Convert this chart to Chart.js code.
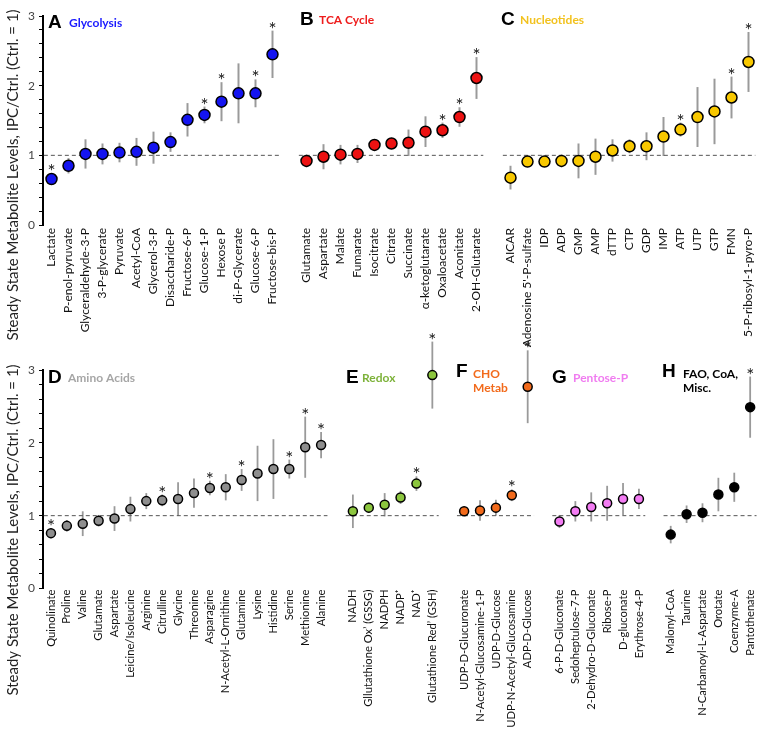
<!DOCTYPE html>
<html><head><meta charset="utf-8">
<script src="https://cdn.jsdelivr.net/npm/chart.js@4/dist/chart.umd.min.js"></script>
<style>
html,body{margin:0;padding:0;background:#fff;}
#wrap{position:relative;width:764px;height:731px;overflow:hidden;background:#fff;}
canvas{position:absolute;left:0;}
</style></head><body>
<div id="wrap">
<canvas id="topChart" width="781" height="360" style="top:0px"></canvas>
<canvas id="botChart" width="781" height="401" style="top:330px"></canvas>
</div>
<script>
// ---------- DATA ----------
const glycolysisLabels = ['Lactate','P-enol-pyruvate','Glyceraldehyde-3-P','3-P-glycerate','Pyruvate','Acetyl-CoA','Glycerol-3-P','Disaccharide-P','Fructose-6-P','Glucose-1-P','Hexose P','di-P-Glycerate','Glucose-6-P','Fructose-bis-P'];
const glycolysisValues = [0.66,0.85,1.02,1.02,1.04,1.05,1.11,1.19,1.51,1.58,1.77,1.89,1.89,2.45];
const glycolysisErrors = [0.08,0.11,0.21,0.15,0.14,0.20,0.23,0.14,0.24,0.12,0.28,0.43,0.20,0.34];
const glycolysisSig    = [1,0,0,0,0,0,0,0,0,1,1,0,1,1];

const tcaLabels = ['Glutamate','Aspartate','Malate','Fumarate','Isocitrate','Citrate','Succinate','α-ketoglutarate','Oxaloacetate','Aconitate','2-OH-Glutarate'];
const tcaValues = [0.92,0.98,1.01,1.02,1.15,1.17,1.18,1.34,1.36,1.55,2.11];
const tcaErrors = [0.09,0.18,0.14,0.13,0.07,0.08,0.19,0.22,0.11,0.14,0.30];
const tcaSig    = [0,0,0,0,0,0,0,0,1,1,1];

const nucleotideLabels = ['AICAR',"Adenosine 5'-P-sulfate",'IDP','ADP','GMP','AMP','dTTP','CTP','GDP','IMP','ATP','UTP','GTP','FMN','5-P-ribosyl-1-pyro-P'];
const nucleotideValues = [0.68,0.91,0.91,0.92,0.92,0.98,1.07,1.13,1.13,1.27,1.37,1.55,1.63,1.83,2.34];
const nucleotideErrors = [0.17,0.08,0.08,0.09,0.25,0.26,0.16,0.10,0.20,0.28,0.10,0.43,0.47,0.30,0.43];
const nucleotideSig    = [0,0,0,0,0,0,0,0,0,0,1,0,0,1,1];

const aminoLabels = ['Quinolinate','Proline','Valine','Glutamate','Aspartate','Leicine/Isoleucine','Arginine','Citrulline','Glycine','Threonine','Asparagine','N-Acetyl-L-Ornithine','Glutamine','Lysine','Histidine','Serine','Methionine','Alanine'];
const aminoValues = [0.76,0.86,0.89,0.93,0.96,1.09,1.20,1.21,1.23,1.31,1.38,1.39,1.49,1.58,1.64,1.64,1.94,1.97];
const aminoErrors = [0.07,0.08,0.17,0.08,0.17,0.17,0.11,0.08,0.23,0.20,0.10,0.18,0.15,0.38,0.41,0.13,0.42,0.18];
const aminoSig    = [1,0,0,0,0,0,0,1,0,0,1,0,1,0,0,1,1,1];

const redoxLabels = ['NADH','Gllutathione Ox’ (GSSG)','NADPH','NADP⁺','NAD⁺','Glutathione Red’ (GSH)'];
const redoxValues = [1.06,1.11,1.15,1.25,1.44,2.93];
const redoxErrors = [0.23,0.07,0.16,0.09,0.10,0.46];
const redoxSig    = [0,0,0,0,1,1];

const choLabels = ['UDP-D-Glucuronate','N-Acetyl-Glucosamine-1-P','UDP-D-Glucose','UDP-N-Acetyl-Glucosamine','ADP-D-Glucose'];
const choValues = [1.06,1.07,1.11,1.28,2.77];
const choErrors = [0.04,0.14,0.11,0.08,0.50];
const choSig    = [0,0,0,1,1];

const pentoseLabels = ['6-P-D-Gluconate','Sedoheptulose-7-P','2-Dehydro-D-Gluconate','Ribose-P','D-gluconate','Erythrose-4-P'];
const pentoseValues = [0.92,1.06,1.12,1.17,1.23,1.23];
const pentoseErrors = [0.09,0.14,0.20,0.24,0.22,0.14];
const pentoseSig    = [0,0,0,0,0,0];

const miscLabels = ['Malonyl-CoA','Taurine','N-Carbamoyl-L-Aspartate','Orotate','Coenzyme-A','Pantothenate'];
const miscValues = [0.74,1.02,1.04,1.29,1.39,2.49];
const miscErrors = [0.12,0.12,0.13,0.23,0.20,0.42];
const miscSig    = [0,0,0,0,0,1];

const yTickValues = [0,1,2,3];
const controlLevel = 1;
const yAxisTitle = 'Steady State Metabolite Levels, IPC/Ctrl. (Ctrl. = 1)';

// ---------- STYLE ----------
const FONT = 'Lato, "Open Sans", sans-serif';
const topPanels = [
  {labels:glycolysisLabels, values:glycolysisValues, errors:glycolysisErrors, sig:glycolysisSig, color:'#1414f0'},
  {labels:tcaLabels, values:tcaValues, errors:tcaErrors, sig:tcaSig, color:'#ec1212'},
  {labels:nucleotideLabels, values:nucleotideValues, errors:nucleotideErrors, sig:nucleotideSig, color:'#f8c800'}
];
const botPanels = [
  {labels:aminoLabels, values:aminoValues, errors:aminoErrors, sig:aminoSig, color:'#8e8e8e'},
  {labels:redoxLabels, values:redoxValues, errors:redoxErrors, sig:redoxSig, color:'#8cc63e'},
  {labels:choLabels, values:choValues, errors:choErrors, sig:choSig, color:'#f26a1b'},
  {labels:pentoseLabels, values:pentoseValues, errors:pentoseErrors, sig:pentoseSig, color:'#f37cf3'},
  {labels:miscLabels, values:miscValues, errors:miscErrors, sig:miscSig, color:'#000000'}
];

function buildRow(panels, radius) {
  const names = {}; const tickIdx = []; const datasets = []; const refs = [];
  let off = 0;
  panels.forEach(p => {
    const n = p.labels.length;
    p.labels.forEach((l,i) => { names[off+i] = l; tickIdx.push(off+i); });
    datasets.push({
      type:'scatter', order:0, clip:false,
      data: p.values.map((v,i)=>({x:off+i, y:v})),
      errors: p.errors, sig: p.sig,
      backgroundColor:p.color, borderColor:'#000', borderWidth:1.5,
      pointRadius:radius, pointHoverRadius:radius
    });
    refs.push({
      type:'line', order:2, clip:false,
      data:[{x:off-0.45, y:controlLevel},{x:off+n-1+0.4, y:controlLevel}],
      borderColor:'#555', borderWidth:1, borderDash:[4,3], pointRadius:0, showLine:true, fill:false
    });
    off += n + 1;
  });
  return {names, tickIdx, datasets: datasets.concat(refs), total: off - 1};
}

function makePlugin(texts, titleY, errW) {
  return {
    id:'decor',
    beforeDatasetsDraw(chart) {
      const {ctx, scales:{x,y}} = chart;
      ctx.save();
      ctx.strokeStyle = '#9a9a9a'; ctx.lineWidth = errW;
      chart.data.datasets.forEach(ds => {
        if (!ds.errors) return;
        ds.data.forEach((p,i) => {
          const px = x.getPixelForValue(p.x);
          ctx.beginPath();
          ctx.moveTo(px, y.getPixelForValue(p.y + ds.errors[i]));
          ctx.lineTo(px, y.getPixelForValue(p.y - ds.errors[i]));
          ctx.stroke();
        });
      });
      ctx.restore();
    },
    afterDatasetsDraw(chart) {
      const {ctx, scales:{x,y}} = chart;
      ctx.save();
      ctx.fillStyle = '#222'; ctx.font = '19px ' + FONT;
      ctx.textAlign = 'center'; ctx.textBaseline = 'alphabetic';
      chart.data.datasets.forEach(ds => {
        if (!ds.errors) return;
        ds.data.forEach((p,i) => {
          if (!ds.sig[i]) return;
          const px = x.getPixelForValue(p.x);
          const py = y.getPixelForValue(p.y + ds.errors[i]);
          ctx.fillText('*', px, py + 5);
        });
      });
      ctx.restore();
    },
    afterDraw(chart) {
      const ctx = chart.ctx;
      ctx.save();
      texts.forEach(t => {
        ctx.font = t.font; ctx.fillStyle = t.color;
        ctx.textAlign = 'left'; ctx.textBaseline = 'alphabetic';
        ctx.fillText(t.text, t.x, t.y);
      });
      ctx.translate(13, titleY);
      ctx.rotate(-Math.PI/2);
      ctx.font = '15px ' + FONT; ctx.fillStyle = '#222';
      ctx.textAlign = 'center'; ctx.textBaseline = 'middle';
      ctx.fillText(yAxisTitle, 0, 0);
      ctx.restore();
    }
  };
}

function makeChart(id, row, padTop, xHeight, labelPad, labelSize, texts, titleY, errW) {
  return new Chart(document.getElementById(id), {
    type:'scatter',
    data:{datasets: row.datasets},
    options:{
      responsive:false, animation:false, devicePixelRatio:1,
      layout:{padding:{top:padTop, right:7, left:0, bottom:0}},
      plugins:{legend:{display:false}, tooltip:{enabled:false}},
      events:[],
      scales:{
        x:{
          type:'linear', min:-0.5, max: row.total + 0.5,
          afterFit: s => { s.height = xHeight; s.paddingLeft = 0; s.paddingRight = 0; },
          afterBuildTicks: s => { s.ticks = row.tickIdx.map(v => ({value:v})); },
          border:{display:false},
          grid:{display:false, drawTicks:false},
          ticks:{autoSkip:false, maxRotation:90, minRotation:90, padding:labelPad,
                 color:'#111', font:{family:FONT, size:labelSize},
                 callback: v => row.names[v] !== undefined ? row.names[v] : ''}
        },
        y:{
          min:0, max:3,
          afterFit: s => { s.width = 43; },
          border:{display:true, color:'#000', width:2},
          grid:{display:true, drawOnChartArea:false, drawTicks:true, tickLength:4, tickColor:'#000', tickWidth:1},
          ticks:{stepSize:0.2, autoSkip:false, padding:4, color:'#444', font:{family:FONT, size:12},
                 callback: v => { const r = Math.round(v); return (Math.abs(v-r) < 1e-6 && yTickValues.includes(r)) ? String(r) : ''; }}
        }
      }
    },
    plugins:[makePlugin(texts, titleY, errW)]
  });
}

const BIG = 'bold 19px "Liberation Sans", Arial, sans-serif';
const SUB = 'bold 12px ' + FONT;
const topTexts = [
  {text:'A', x:48, y:28, font:BIG, color:'#000'},
  {text:'Glycolysis', x:69, y:26.5, font:SUB, color:'#1a1aff'},
  {text:'B', x:300, y:25, font:BIG, color:'#000'},
  {text:'TCA Cycle', x:319, y:24, font:SUB, color:'#ee1c1c'},
  {text:'C', x:501, y:25, font:BIG, color:'#000'},
  {text:'Nucleotides', x:520, y:24, font:SUB, color:'#f2c21e'}
];
const o = 330;
const botTexts = [
  {text:'D', x:48, y:383-o, font:BIG, color:'#000'},
  {text:'Amino Acids', x:68, y:382-o, font:SUB, color:'#a6a6a6'},
  {text:'E', x:346, y:383-o, font:BIG, color:'#000'},
  {text:'Redox', x:362, y:382-o, font:SUB, color:'#7db23a'},
  {text:'F', x:456, y:377-o, font:BIG, color:'#000'},
  {text:'CHO', x:473, y:378-o, font:SUB, color:'#f26a1b'},
  {text:'Metab', x:473, y:392-o, font:SUB, color:'#f26a1b'},
  {text:'G', x:552, y:383-o, font:BIG, color:'#000'},
  {text:'Pentose-P', x:573, y:382-o, font:SUB, color:'#f07cf0'},
  {text:'H', x:662, y:377-o, font:BIG, color:'#000'},
  {text:'FAO, CoA,', x:683, y:378-o, font:SUB, color:'#000'},
  {text:'Misc.', x:683, y:392-o, font:SUB, color:'#000'}
];

const topRow = buildRow(topPanels, 5.5);
const botRow = buildRow(botPanels, 4.5);
makeChart('topChart', topRow, 16, 135, 3, 12, topTexts, 175, 2);
makeChart('botChart', botRow, 40, 142.5, 1, 11.2, botTexts, 530 - o, 1.8);
</script>
</body></html>
